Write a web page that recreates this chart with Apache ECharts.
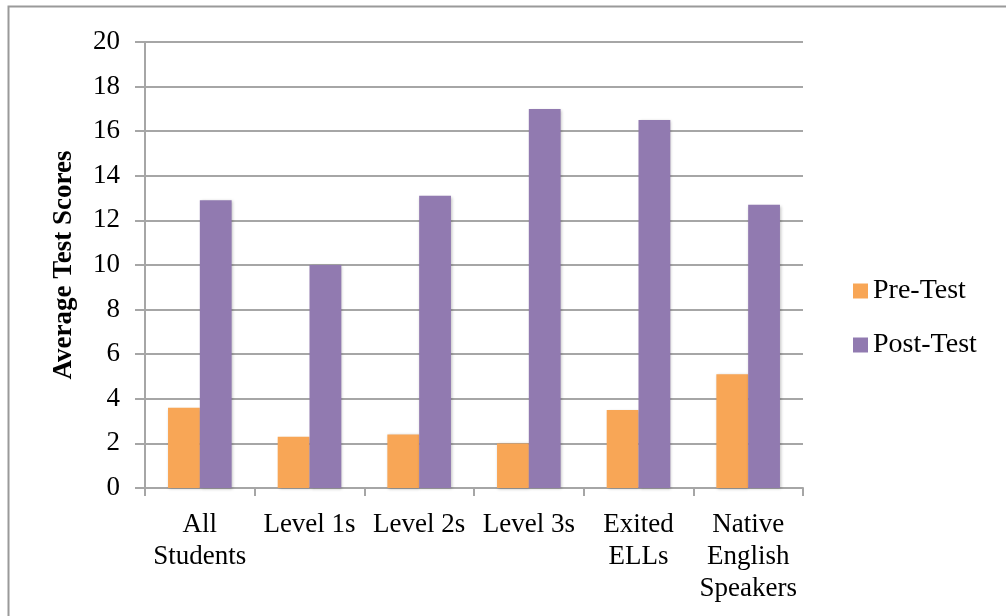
<!DOCTYPE html>
<html>
<head>
<meta charset="utf-8">
<script src="https://cdn.jsdelivr.net/npm/echarts@6/dist/echarts.min.js"></script>
<style>
  html, body { margin: 0; padding: 0; background: #ffffff; }
  #chart { width: 1006px; height: 616px; }
</style>
</head>
<body>
<div id="chart"></div>
<script>
// Student groups along the horizontal axis
const categories = ['All\nStudents', 'Level 1s', 'Level 2s', 'Level 3s', 'Exited\nELLs', 'Native\nEnglish\nSpeakers'];
// Average scores per group
const preTest = [3.6, 2.3, 2.4, 2.0, 3.5, 5.1];
const postTest = [12.9, 10.0, 13.1, 17.0, 16.5, 12.7];
// Value axis ticks
const yTicks = [0, 2, 4, 6, 8, 10, 12, 14, 16, 18, 20];

const FONT = 'Liberation Serif, DejaVu Serif, serif';
const GRID = '#a6a6a6';

const chart = echarts.init(document.getElementById('chart'), null, { renderer: 'canvas' });

const barShadow = {
  shadowColor: 'rgba(0,0,0,0.25)',
  shadowBlur: 3,
  shadowOffsetX: 1,
  shadowOffsetY: 1
};

chart.setOption({
  backgroundColor: '#ffffff',
  animation: false,
  graphic: [{
    type: 'rect',
    shape: { x: 8.5, y: 6.5, width: 1100, height: 700 },
    style: { fill: 'none', stroke: '#9a9a9a', lineWidth: 2 },
    silent: true,
    z: -1
  }],
  grid: { left: 145, right: 203, top: 42, bottom: 128 },
  legend: {
    orient: 'vertical',
    left: 848,
    top: 272,
    itemWidth: 15,
    itemHeight: 15,
    itemGap: 26,
    icon: 'rect',
    textStyle: { fontFamily: FONT, fontSize: 28, color: '#000' },
    data: ['Pre-Test', 'Post-Test']
  },
  xAxis: {
    type: 'category',
    data: categories,
    axisLine: { lineStyle: { color: GRID, width: 2 } },
    axisTick: { show: true, length: 8, lineStyle: { color: GRID, width: 2 } },
    axisLabel: {
      interval: 0,
      margin: 21,
      fontFamily: FONT,
      fontSize: 27,
      lineHeight: 32,
      color: '#000'
    }
  },
  yAxis: {
    type: 'value',
    min: 0,
    max: 20,
    interval: 2,
    name: 'Average Test Scores',
    nameLocation: 'middle',
    nameGap: 67,
    nameTextStyle: { fontFamily: FONT, fontSize: 27, fontWeight: 'bold', color: '#000' },
    axisLine: { show: true, lineStyle: { color: GRID, width: 2 } },
    axisTick: { show: true, length: 10, lineStyle: { color: GRID, width: 2 } },
    splitLine: { lineStyle: { color: GRID, width: 2 } },
    axisLabel: {
      margin: 25,
      fontFamily: FONT,
      fontSize: 27,
      color: '#000',
      formatter: v => (yTicks.includes(v) ? String(v) : '')
    }
  },
  series: [
    {
      name: 'Pre-Test',
      type: 'bar',
      data: preTest,
      barGap: '0%',
      barCategoryGap: '42%',
      itemStyle: Object.assign({ color: '#f8a656' }, barShadow)
    },
    {
      name: 'Post-Test',
      type: 'bar',
      data: postTest,
      itemStyle: Object.assign({ color: '#917ab0' }, barShadow)
    }
  ]
});
</script>
</body>
</html>
